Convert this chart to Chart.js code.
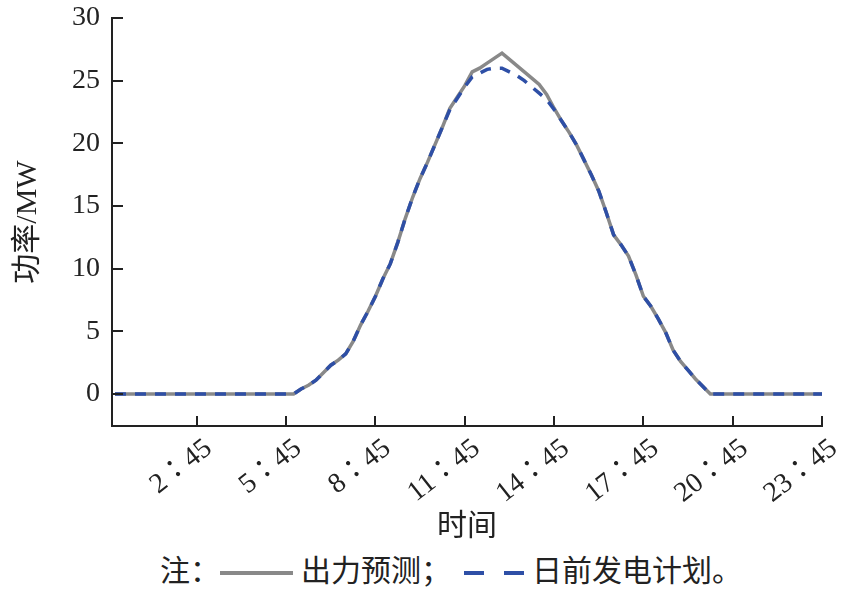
<!DOCTYPE html>
<html>
<head>
<meta charset="utf-8">
<script src="https://cdn.jsdelivr.net/npm/chart.js@4/dist/chart.umd.min.js"></script>
<style>
  html, body { margin: 0; padding: 0; background: #fff; }
  #wrap { position: relative; width: 848px; height: 590px; }
  #chart { position: absolute; left: 0; top: 0; }
  #note {
    position: absolute; left: 160px; top: 550px; white-space: nowrap;
    font-family: "Noto Sans CJK SC", sans-serif; font-size: 30px; line-height: 36px; color: #222;
  }
  .solid { display: inline-block; width: 73px; height: 4px; background: #898989; vertical-align: middle; margin: 0 8px 0 0; }
  .dash { display: inline-block; width: 20px; height: 4px; background: #2e4fa6; vertical-align: middle; }
</style>
</head>
<body>
<div id="wrap">
  <canvas id="chart" width="848" height="545"></canvas>
  <div id="note">注：<span class="solid"></span>出力预测；<span class="dash" style="margin-left:13px;margin-right:20px"></span><span class="dash" style="margin-right:8px"></span>日前发电计划。</div>
</div>
<script>
// 15 min steps, 0:00 .. 23:45
const times = [];
for (let h = 0; h < 24; h++) {
  for (const m of ["00", "15", "30", "45"]) times.push(h + "：" + m);
}

// 出力预测 (MW)
const forecast = [
  0, 0, 0, 0, 0, 0, 0, 0, 0, 0, 0, 0,
  0, 0, 0, 0, 0, 0, 0, 0, 0, 0, 0, 0,
  0, 0.4, 0.7, 1.1, 1.7, 2.3, 2.7, 3.2, 4.2, 5.5, 6.6, 7.8,
  9.2, 10.4, 12.1, 14.0, 15.7, 17.2, 18.5, 19.9, 21.3, 22.8, 23.7, 24.6,
  25.7, 26.0, 26.4, 26.8, 27.2, 26.7, 26.2, 25.7, 25.2, 24.7, 23.9, 22.8,
  21.8, 20.9, 19.9, 18.7, 17.5, 16.2, 14.5, 12.7, 11.9, 11.0, 9.5, 7.8,
  7.0, 6.0, 4.9, 3.5, 2.6, 1.9, 1.2, 0.6, 0, 0, 0, 0,
  0, 0, 0, 0, 0, 0, 0, 0, 0, 0, 0, 0
];

// 日前发电计划 (MW)
const plan = [
  0, 0, 0, 0, 0, 0, 0, 0, 0, 0, 0, 0,
  0, 0, 0, 0, 0, 0, 0, 0, 0, 0, 0, 0,
  0, 0.4, 0.7, 1.1, 1.7, 2.3, 2.7, 3.2, 4.2, 5.5, 6.6, 7.8,
  9.2, 10.4, 12.1, 14.0, 15.7, 17.2, 18.5, 19.9, 21.3, 22.7, 23.6, 24.5,
  25.3, 25.6, 25.9, 26.0, 26.0, 25.7, 25.4, 25.0, 24.5, 24.0, 23.5, 22.7,
  21.8, 20.9, 19.9, 18.7, 17.5, 16.2, 14.5, 12.7, 11.9, 11.0, 9.5, 7.8,
  7.0, 6.0, 4.9, 3.5, 2.6, 1.9, 1.2, 0.6, 0, 0, 0, 0,
  0, 0, 0, 0, 0, 0, 0, 0, 0, 0, 0, 0
];

const xTickIdx = [11, 23, 35, 47, 59, 71, 83, 95];
const yTicks = [0, 5, 10, 15, 20, 25, 30];

const axisColor = "#222";
const serif = "'Liberation Serif', 'Noto Sans CJK SC', serif";
const numFont = { family: serif, size: 28 };
const timeFont = { family: "'Liberation Serif', 'Noto Sans CJK JP', serif", size: 28 };
const titleFont = { family: serif, size: 30 };

// inward tick marks
const innerTicks = {
  id: "innerTicks",
  afterDraw(chart) {
    const { ctx, chartArea, scales } = chart;
    ctx.save();
    ctx.strokeStyle = axisColor;
    ctx.lineWidth = 2;
    ctx.beginPath();
    xTickIdx.forEach(i => {
      const x = Math.round(scales.x.getPixelForValue(i));
      ctx.moveTo(x, chartArea.bottom);
      ctx.lineTo(x, chartArea.bottom - 10);
    });
    yTicks.forEach(v => {
      const y = Math.round(scales.y.getPixelForValue(v));
      ctx.moveTo(chartArea.left, y);
      ctx.lineTo(chartArea.left + 11, y);
    });
    ctx.stroke();
    ctx.restore();
  }
};

function draw() {
  new Chart(document.getElementById("chart").getContext("2d"), {
    type: "line",
    data: {
      datasets: [
        {
          label: "日前发电计划",
          data: plan.map((v, i) => ({ x: i, y: v })),
          borderColor: "#2e4fa6",
          borderWidth: 3.5,
          borderDash: [11, 9],
          pointRadius: 0,
          tension: 0,
          order: 0
        },
        {
          label: "出力预测",
          data: forecast.map((v, i) => ({ x: i, y: v })),
          borderColor: "#898989",
          borderWidth: 3.5,
          pointRadius: 0,
          tension: 0,
          order: 1
        }
      ]
    },
    options: {
      responsive: false,
      animation: false,
      events: [],
      layout: { padding: { top: 18, right: 26, left: 0, bottom: 0 } },
      plugins: { legend: { display: false }, tooltip: { enabled: false } },
      scales: {
        x: {
          type: "linear",
          min: -0.4,
          max: 95,
          afterBuildTicks: s => { s.ticks = xTickIdx.map(v => ({ value: v })); },
          afterFit: s => { s.height = 119; s.paddingLeft = 0; s.paddingRight = 0; },
          grid: { display: true, drawOnChartArea: false, drawTicks: false },
          border: { display: true, color: axisColor, width: 2 },
          ticks: {
            autoSkip: false,
            minRotation: 38,
            maxRotation: 38,
            padding: 6,
            labelOffset: 12,
            color: axisColor,
            font: timeFont,
            callback: v => times[v]
          },
          title: { display: true, text: "时间", color: axisColor, font: titleFont, padding: 0 }
        },
        y: {
          min: -2.55,
          max: 30,
          afterBuildTicks: s => { s.ticks = yTicks.map(v => ({ value: v })); },
          afterFit: s => { s.width = 112; s.paddingTop = 0; s.paddingBottom = 0; },
          grid: { display: true, drawOnChartArea: false, drawTicks: false },
          border: { display: true, color: axisColor, width: 2 },
          ticks: { padding: 12, color: axisColor, font: numFont },
          title: {
            display: true,
            text: "功率/MW",
            color: axisColor,
            font: titleFont,
            padding: { top: 10, bottom: 0 }
          }
        }
      }
    },
    plugins: [innerTicks]
  });
}

Promise.all([
  document.fonts.load("28px 'Liberation Serif'"),
  document.fonts.load("30px 'Noto Sans CJK SC'", "功率时间"),
  document.fonts.load("28px 'Noto Sans CJK JP'", "：")
]).then(draw, draw);
</script>
</body>
</html>
